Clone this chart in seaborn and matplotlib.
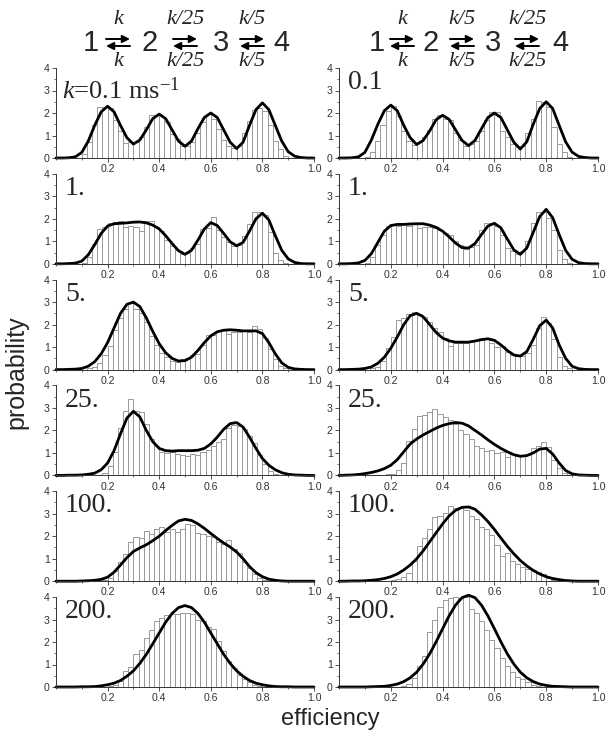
import numpy as np
import pandas as pd
import matplotlib
matplotlib.use("Agg")
import matplotlib.pyplot as plt
from matplotlib.ticker import MultipleLocator, FixedLocator
from matplotlib.patches import FancyArrowPatch
import seaborn as sns

# ---------------- data ----------------
rate_labels = ["0.1", "1.", "5.", "25.", "100.", "200."]
x_ticks = [0.2, 0.4, 0.6, 0.8, 1.0]
y_ticks = [0, 1, 2, 3, 4]

# histogram: 40 bins of width 0.02 from 0.10 to 0.90
bin_start, bin_stop, bin_width = 0.10, 0.90, 0.02

bars_left_01 = [0.2, 0.7, 1.45, 2.25, 2.25, 2.2, 1.7, 1.2, 0.65, 0.7,
                0.7, 0.95, 1.4, 1.9, 1.9, 1.85, 1.6, 1.05, 0.85, 0.55,
                0.55, 0.7, 1.1, 1.6, 1.95, 1.75, 1.3, 0.8, 0.55, 0.45,
                0.55, 1.1, 1.65, 2.15, 2.2, 2.1, 1.45, 0.75, 0.4, 0.1]
bars_right_01 = [0.05, 0.25, 0.75, 1.45, 2.1, 2.3, 1.85, 1.2, 0.75, 0.6,
                 0.7, 0.95, 1.25, 1.75, 1.9, 1.75, 1.7, 1.1, 0.8, 0.55,
                 0.6, 0.75, 1.2, 1.7, 2.05, 2.05, 1.2, 0.95, 0.6, 0.5,
                 0.55, 1.1, 1.75, 2.55, 2.5, 2.25, 1.4, 0.6, 0.25, 0.05]
bars_left_1 = [0.05, 0.3, 0.9, 1.55, 1.65, 1.8, 1.85, 1.9, 1.65, 1.7,
               1.65, 1.45, 1.9, 1.9, 1.65, 1.45, 1.05, 0.8, 0.6, 0.45,
               0.5, 0.7, 0.9, 1.55, 1.6, 2.1, 1.5, 1.2, 0.95, 0.8,
               0.85, 1.25, 1.75, 2.3, 2.3, 2.15, 1.4, 0.5, 0.15, 0.05]
bars_right_1 = [0.05, 0.3, 0.85, 1.3, 1.7, 1.75, 1.7, 1.75, 1.7, 1.75,
                1.6, 1.65, 1.65, 1.6, 1.5, 1.35, 1.3, 1.0, 0.85, 0.65,
                0.75, 0.85, 1.5, 1.8, 1.8, 1.7, 1.3, 0.7, 0.55, 0.45,
                0.55, 1.0, 1.8, 2.3, 2.3, 2.05, 1.5, 0.6, 0.2, 0.05]
bars_left_5 = [0.0, 0.05, 0.1, 0.3, 0.65, 1.05, 1.75, 2.3, 2.7, 2.95,
               2.7, 2.5, 2.1, 1.5, 1.1, 0.75, 0.55, 0.4, 0.35, 0.45,
               0.5, 0.65, 0.7, 1.1, 1.55, 1.55, 1.7, 1.75, 1.6, 1.65,
               1.65, 1.75, 1.65, 1.95, 1.8, 1.4, 0.9, 0.45, 0.15, 0.05]
bars_right_5 = [0.0, 0.05, 0.1, 0.4, 0.95, 1.45, 2.2, 2.3, 2.45, 2.55,
                2.45, 2.35, 2.1, 1.85, 1.65, 1.4, 1.05, 1.2, 1.2, 1.2,
                1.25, 1.3, 1.4, 1.4, 1.2, 1.0, 1.05, 0.8, 0.65, 0.6,
                0.6, 0.75, 1.1, 1.85, 2.35, 2.05, 1.35, 0.55, 0.15, 0.05]
bars_left_25 = [0.0, 0.0, 0.01, 0.02, 0.1, 0.4, 1.05, 2.1, 2.85, 3.4,
                2.85, 2.8, 2.3, 1.6, 1.3, 1.05, 1.0, 1.05, 0.95, 0.9,
                0.85, 0.95, 0.9, 1.05, 1.15, 1.3, 1.5, 1.6, 2.1, 2.25,
                2.2, 2.05, 1.75, 1.45, 0.9, 0.5, 0.2, 0.05, 0.0, 0.0]
bars_right_25 = [0.0, 0.0, 0.0, 0.02, 0.05, 0.05, 0.25, 0.55, 1.55, 2.05,
                 2.65, 2.7, 2.8, 2.95, 2.75, 2.6, 2.45, 2.3, 2.0, 1.85,
                 1.6, 1.3, 1.2, 1.1, 1.15, 1.0, 1.05, 0.8, 0.95, 0.85,
                 0.85, 0.9, 1.2, 1.3, 1.5, 1.25, 0.7, 0.35, 0.1, 0.02]
bars_left_100 = [0.0, 0.0, 0.0, 0.0, 0.05, 0.15, 0.45, 0.85, 1.2, 1.75,
                 1.95, 1.9, 2.25, 2.1, 2.3, 2.4, 2.2, 2.3, 2.2, 2.3,
                 2.55, 2.5, 2.15, 2.1, 2.0, 1.95, 1.75, 1.65, 1.85, 1.45,
                 1.25, 0.85, 0.6, 0.3, 0.15, 0.05, 0.0, 0.0, 0.0, 0.0]
bars_right_100 = [0.0, 0.0, 0.0, 0.0, 0.02, 0.05, 0.1, 0.2, 0.35, 0.9,
                  1.55, 1.9, 2.3, 2.85, 2.9, 3.05, 3.35, 3.25, 3.3, 3.15,
                  2.9, 2.75, 2.4, 2.3, 2.05, 1.6, 1.1, 1.25, 0.9, 0.75,
                  0.65, 0.55, 0.5, 0.4, 0.3, 0.15, 0.05, 0.02, 0.0, 0.0]
bars_left_200 = [0.0, 0.0, 0.0, 0.0, 0.0, 0.05, 0.1, 0.25, 0.7, 0.9,
                 1.45, 1.65, 2.2, 2.55, 2.95, 3.05, 3.2, 3.25, 3.25, 3.3,
                 3.3, 3.25, 3.0, 2.95, 2.65, 2.6, 2.05, 1.6, 1.15, 0.85,
                 0.55, 0.35, 0.2, 0.1, 0.05, 0.0, 0.0, 0.0, 0.0, 0.0]
bars_right_200 = [0.0, 0.0, 0.0, 0.0, 0.0, 0.0, 0.0, 0.05, 0.15, 0.4,
                  0.95, 1.4, 2.45, 3.0, 3.55, 3.85, 3.95, 4.0, 3.95, 4.0,
                  3.45, 3.3, 2.95, 2.55, 2.1, 1.75, 1.3, 0.95, 0.65, 0.45,
                  0.35, 0.2, 0.1, 0.05, 0.0, 0.0, 0.0, 0.0, 0.0, 0.0]

# smooth curves sampled at efficiency 0.000, 0.025, ..., 1.000
curve_x = [0.0, 0.025, 0.05, 0.075, 0.1, 0.125, 0.15, 0.175, 0.2, 0.225,
           0.25, 0.275, 0.3, 0.325, 0.35, 0.375, 0.4, 0.425, 0.45, 0.475,
           0.5, 0.525, 0.55, 0.575, 0.6, 0.625, 0.65, 0.675, 0.7, 0.725,
           0.75, 0.775, 0.8, 0.825, 0.85, 0.875, 0.9, 0.925, 0.95, 0.975, 1.0]

curve_left_01 = [0, 0, 0.01, 0.05, 0.25, 0.75, 1.45, 2.05, 2.3, 2.05,
                 1.45, 0.9, 0.62, 0.8, 1.25, 1.75, 1.95, 1.75, 1.25, 0.75,
                 0.52, 0.75, 1.3, 1.8, 2.0, 1.8, 1.25, 0.7, 0.42, 0.7,
                 1.45, 2.15, 2.45, 2.15, 1.45, 0.75, 0.28, 0.08, 0.02, 0, 0]
curve_right_01 = [0, 0, 0.01, 0.05, 0.25, 0.8, 1.5, 2.1, 2.35, 2.1,
                  1.45, 0.9, 0.6, 0.78, 1.2, 1.7, 1.9, 1.72, 1.25, 0.78,
                  0.55, 0.78, 1.3, 1.8, 2.0, 1.8, 1.25, 0.7, 0.4, 0.72,
                  1.5, 2.2, 2.5, 2.2, 1.45, 0.72, 0.26, 0.07, 0.02, 0, 0]
curve_left_1 = [0, 0, 0.01, 0.03, 0.12, 0.4, 0.85, 1.35, 1.68, 1.78,
                1.8, 1.82, 1.85, 1.86, 1.82, 1.72, 1.55, 1.25, 0.9, 0.58,
                0.42, 0.6, 1.05, 1.55, 1.83, 1.7, 1.35, 0.98, 0.8, 0.95,
                1.45, 2.0, 2.25, 1.95, 1.25, 0.6, 0.22, 0.06, 0.01, 0, 0]
curve_right_1 = [0, 0, 0.01, 0.04, 0.15, 0.45, 0.95, 1.45, 1.7, 1.75,
                 1.75, 1.77, 1.78, 1.78, 1.72, 1.62, 1.45, 1.2, 0.92, 0.72,
                 0.7, 0.9, 1.3, 1.68, 1.8, 1.6, 1.1, 0.62, 0.42, 0.7,
                 1.4, 2.1, 2.42, 2.05, 1.3, 0.6, 0.2, 0.05, 0.01, 0, 0]
curve_left_5 = [0, 0, 0.01, 0.02, 0.05, 0.15, 0.35, 0.7, 1.2, 1.85,
                2.5, 2.9, 3.0, 2.8, 2.3, 1.7, 1.15, 0.75, 0.5, 0.38,
                0.4, 0.55, 0.85, 1.2, 1.5, 1.68, 1.75, 1.77, 1.75, 1.72,
                1.72, 1.72, 1.6, 1.2, 0.7, 0.3, 0.1, 0.03, 0.01, 0, 0]
curve_right_5 = [0, 0, 0.01, 0.02, 0.05, 0.12, 0.28, 0.55, 0.95, 1.45,
                 2.0, 2.4, 2.5, 2.35, 2.0, 1.65, 1.4, 1.28, 1.22, 1.22,
                 1.22, 1.27, 1.33, 1.37, 1.3, 1.1, 0.85, 0.65, 0.6, 0.8,
                 1.35, 1.95, 2.2, 1.85, 1.1, 0.5, 0.15, 0.04, 0.01, 0, 0]
curve_left_25 = [0, 0, 0.01, 0.01, 0.02, 0.05, 0.1, 0.25, 0.55, 1.1,
                 1.85, 2.55, 2.85, 2.6, 2.0, 1.5, 1.2, 1.1, 1.08, 1.1,
                 1.1, 1.1, 1.12, 1.2, 1.4, 1.7, 2.05, 2.3, 2.35, 2.15,
                 1.7, 1.2, 0.75, 0.45, 0.25, 0.12, 0.05, 0.02, 0.01, 0, 0]
curve_right_25 = [0, 0.01, 0.02, 0.04, 0.08, 0.13, 0.2, 0.3, 0.45, 0.7,
                  1.05, 1.4, 1.62, 1.8, 1.95, 2.1, 2.22, 2.3, 2.35, 2.32,
                  2.2, 2.0, 1.8, 1.58, 1.38, 1.2, 1.05, 0.92, 0.85, 0.88,
                  1.0, 1.17, 1.2, 0.95, 0.55, 0.22, 0.07, 0.02, 0.01, 0, 0]
curve_left_100 = [0, 0, 0, 0, 0.01, 0.02, 0.04, 0.08, 0.18, 0.4,
                  0.72, 1.05, 1.32, 1.48, 1.62, 1.8, 2.0, 2.25, 2.48, 2.68,
                  2.75, 2.7, 2.55, 2.35, 2.12, 1.9, 1.7, 1.52, 1.3, 1.0,
                  0.65, 0.38, 0.2, 0.09, 0.04, 0.01, 0, 0, 0, 0, 0]
curve_right_100 = [0, 0, 0.01, 0.01, 0.02, 0.04, 0.07, 0.12, 0.2, 0.32,
                   0.5, 0.72, 1.0, 1.35, 1.75, 2.15, 2.55, 2.9, 3.15, 3.28,
                   3.3, 3.2, 2.95, 2.65, 2.3, 1.92, 1.55, 1.22, 0.92, 0.68,
                   0.48, 0.32, 0.2, 0.12, 0.07, 0.03, 0.01, 0, 0, 0, 0]
curve_left_200 = [0, 0, 0, 0, 0.01, 0.01, 0.02, 0.05, 0.1, 0.17,
                  0.29, 0.48, 0.72, 1.05, 1.45, 1.92, 2.4, 2.88, 3.27, 3.53,
                  3.62, 3.53, 3.27, 2.88, 2.4, 1.92, 1.45, 1.05, 0.72, 0.48,
                  0.29, 0.17, 0.1, 0.05, 0.02, 0.01, 0.01, 0, 0, 0, 0]
curve_right_200 = [0, 0, 0, 0, 0, 0.01, 0.02, 0.03, 0.07, 0.13,
                   0.24, 0.41, 0.66, 1.02, 1.47, 2.01, 2.59, 3.16, 3.64, 3.97,
                   4.08, 3.97, 3.64, 3.16, 2.59, 2.01, 1.47, 1.02, 0.66, 0.41,
                   0.24, 0.13, 0.07, 0.03, 0.02, 0.01, 0, 0, 0, 0, 0]

left_bars = [bars_left_01, bars_left_1, bars_left_5, bars_left_25, bars_left_100, bars_left_200]
right_bars = [bars_right_01, bars_right_1, bars_right_5, bars_right_25, bars_right_100, bars_right_200]
left_curves = [curve_left_01, curve_left_1, curve_left_5, curve_left_25, curve_left_100, curve_left_200]
right_curves = [curve_right_01, curve_right_1, curve_right_5, curve_right_25, curve_right_100, curve_right_200]

# ---------------- style ----------------
sns.set_style("ticks")
plt.rcParams["font.family"] = ["Liberation Sans", "DejaVu Sans"]
plt.rcParams["mathtext.fontset"] = "custom"
plt.rcParams["mathtext.rm"] = "Liberation Serif"
plt.rcParams["mathtext.it"] = "Liberation Serif:italic"

W, H = 610, 737
fig = plt.figure(figsize=(W / 100, H / 100), dpi=100)

edges = [round(bin_start + i * bin_width, 3)
         for i in range(int(round((bin_stop - bin_start) / bin_width)) + 1)]
centers = [(a + b) / 2 for a, b in zip(edges[:-1], edges[1:])]

col_x = [56, 339]
col_w = [258, 259]
row_zero0, row_step, ax_h = 158, 105.8, 90

serif = ["Liberation Serif", "DejaVu Serif"]

for c, (bars_list, curves_list) in enumerate([(left_bars, left_curves), (right_bars, right_curves)]):
    for r in range(6):
        zero = row_zero0 + row_step * r
        ax = fig.add_axes([col_x[c] / W, 1 - zero / H, col_w[c] / W, ax_h / H])
        df_b = pd.DataFrame({"eff": centers, "p": bars_list[r]})
        sns.histplot(data=df_b, x="eff", weights="p", bins=edges, stat="count",
                     ax=ax, color="white", edgecolor="#999999", linewidth=0.7, alpha=1)
        df_c = pd.DataFrame({"eff": curve_x, "p": curves_list[r]})
        sns.lineplot(data=df_c, x="eff", y="p", ax=ax, color="black", lw=2.0,
                     estimator=None, sort=False, clip_on=False)
        ax.set_xlim(0, 1)
        ax.set_ylim(0, 4)
        ax.set_xlabel("")
        ax.set_ylabel("")
        ax.xaxis.set_major_locator(FixedLocator(x_ticks))
        ax.xaxis.set_minor_locator(MultipleLocator(0.1))
        ax.yaxis.set_major_locator(FixedLocator(y_ticks))
        ax.yaxis.set_minor_locator(MultipleLocator(0.5))
        ax.set_xticklabels([f"{t:.1f}" for t in x_ticks])
        ax.set_yticklabels([str(t) for t in y_ticks])
        ax.tick_params(axis="both", which="major", labelsize=7.6, length=3,
                       width=0.6, pad=1.5, colors="#333333")
        ax.tick_params(axis="both", which="minor", length=1.6, width=0.5, colors="#333333")
        for s in ["top", "right"]:
            ax.spines[s].set_visible(False)
        for s in ["left", "bottom"]:
            ax.spines[s].set_linewidth(0.7)
            ax.spines[s].set_color("#333333")
        if c == 0 and r == 0:
            ax.text(0.025, 3.0, r"$\mathit{k}$=0.1 ms$^{\mathrm{-1}}$", fontsize=19,
                    ha="left", va="center", family=serif)
        else:
            ax.text(0.035, 3.35, rate_labels[r], fontsize=20, ha="left", va="center",
                    family=serif)

# ---------------- headers ----------------
def arrows(cx):
    up = FancyArrowPatch((cx - 12, H - 39), (cx + 12, H - 39), arrowstyle="-|>",
                         mutation_scale=11, lw=1.4, color="black",
                         transform=None, shrinkA=0, shrinkB=0)
    dn = FancyArrowPatch((cx + 12, H - 46), (cx - 12, H - 46), arrowstyle="-|>",
                         mutation_scale=11, lw=1.4, color="black",
                         transform=None, shrinkA=0, shrinkB=0)
    fig.add_artist(up)
    fig.add_artist(dn)


def header(nums, num_x, arr_x, tops, bots):
    for n, x in zip(nums, num_x):
        fig.text(x / W, 1 - 43 / H, n, fontsize=21, ha="center", va="center")
    for x, t, b in zip(arr_x, tops, bots):
        arrows(x)
        fig.text(x / W, 1 - 20 / H, t, fontsize=16, ha="center", va="center",
                 family=serif, style="italic")
        fig.text(x / W, 1 - 62 / H, b, fontsize=16, ha="center", va="center",
                 family=serif, style="italic")


header(["1", "2", "3", "4"], [91, 150, 221, 281], [118, 185, 252],
       ["k", "k/25", "k/5"], ["k", "k/25", "k/5"])
header(["1", "2", "3", "4"], [377, 431, 493, 560], [402, 462, 527],
       ["k", "k/5", "k/25"], ["k", "k/5", "k/25"])

fig.text(16 / W, 1 - 372 / H, "probability", rotation=90, fontsize=18,
         ha="center", va="center")
fig.text(330 / W, 1 - 719 / H, "efficiency", fontsize=17, ha="center", va="center")

fig.savefig("out.png", dpi=100, facecolor="white")
